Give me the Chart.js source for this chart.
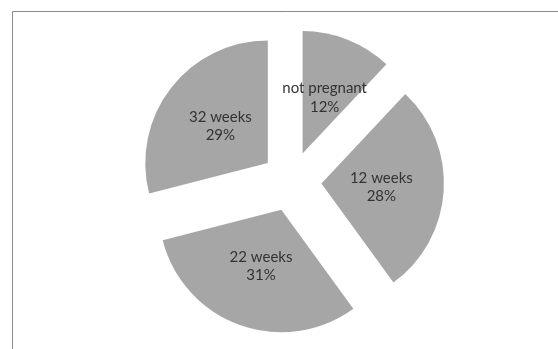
<!DOCTYPE html>
<html>
<head>
<meta charset="utf-8">
<style>
  html, body { margin: 0; padding: 0; background: #ffffff; }
  #wrap { position: relative; width: 558px; height: 349px; }
</style>
<script src="https://cdn.jsdelivr.net/npm/chart.js@4/dist/chart.umd.min.js"></script>
</head>
<body>
<div id="wrap"><canvas id="chart" width="558" height="349"></canvas></div>
<script>
// Pregnancy stage shares (percent)
const categories = ['not pregnant', '12 weeks', '22 weeks', '32 weeks'];
const shares = [12, 28, 31, 29];

const SLICE_COLOR = '#a6a6a6';
const LABEL_COLOR = '#333333';
const EXPLODE = 30;       // px each slice is pulled away from the centre
const PIE_RADIUS = 122.5; // px
const LABEL_FONT = '15px Lato, "Open Sans", sans-serif';
const LINE_GAP = 18.5;

// Pull every slice outward along its bisector (exploded pie)
const explodePlugin = {
  id: 'explode',
  afterDatasetsUpdate(chart) {
    chart.getDatasetMeta(0).data.forEach(arc => {
      const mid = (arc.startAngle + arc.endAngle) / 2;
      arc.x += Math.cos(mid) * EXPLODE;
      arc.y += Math.sin(mid) * EXPLODE;
    });
  }
};

// Category name and percentage inside each slice
const sliceLabels = {
  id: 'sliceLabels',
  afterDatasetsDraw(chart) {
    const ctx = chart.ctx;
    const meta = chart.getDatasetMeta(0);
    ctx.save();
    ctx.font = LABEL_FONT;
    ctx.fillStyle = LABEL_COLOR;
    ctx.textAlign = 'center';
    ctx.textBaseline = 'middle';
    meta.data.forEach((arc, i) => {
      const mid = (arc.startAngle + arc.endAngle) / 2;
      const d = arc.outerRadius * 0.49;
      const cx = arc.x + Math.cos(mid) * d;
      const cy = arc.y + Math.sin(mid) * d;
      ctx.fillText(categories[i], cx, cy - LINE_GAP / 2);
      ctx.fillText(shares[i] + '%', cx, cy + LINE_GAP / 2);
    });
    ctx.restore();
  }
};

// Chart-area frame (top and left edges)
const frame = {
  id: 'frame',
  beforeDraw(chart) {
    const ctx = chart.ctx;
    ctx.save();
    ctx.strokeStyle = '#8a8a8a';
    ctx.lineWidth = 1;
    ctx.beginPath();
    ctx.moveTo(12.5, chart.height);
    ctx.lineTo(12.5, 11.5);
    ctx.lineTo(chart.width, 11.5);
    ctx.stroke();
    ctx.restore();
  }
};

new Chart(document.getElementById('chart'), {
  type: 'pie',
  data: {
    labels: categories,
    datasets: [{
      data: shares,
      backgroundColor: SLICE_COLOR,
      borderWidth: 0
    }]
  },
  options: {
    responsive: false,
    animation: false,
    radius: PIE_RADIUS,
    layout: { padding: { left: 25, right: 0, top: 14, bottom: 0 } },
    plugins: {
      legend: { display: false },
      tooltip: { enabled: false }
    }
  },
  plugins: [explodePlugin, sliceLabels, frame]
});
</script>
</body>
</html>
